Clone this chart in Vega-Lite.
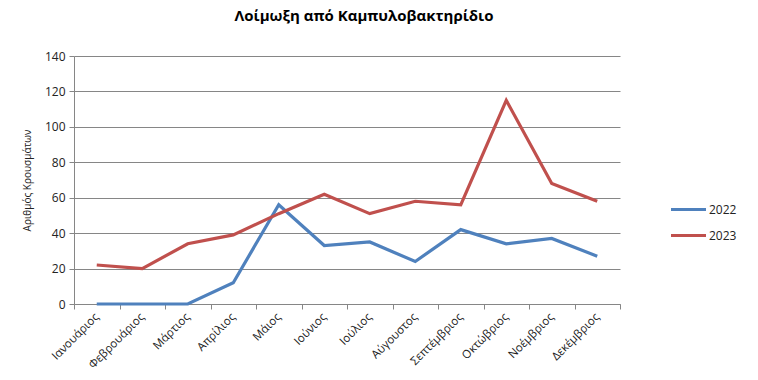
{
  "$schema": "https://vega.github.io/schema/vega-lite/v6.json",
  "autosize": "none",
  "padding": {"left": 74, "top": 56, "right": 138, "bottom": 76},
  "width": 546,
  "height": 248,
  "background": "white",
  "config": {"font": "Open Sans", "view": {"stroke": null}},
  "title": {"text": "Λοίμωξη από Καμπυλοβακτηρίδιο", "font": "Open Sans", "fontSize": 15, "fontWeight": "bold", "color": "#000000", "anchor": "middle", "frame": "group", "dx": 17, "offset": 26},
  "data": {"values": [
    {"month": "Ιανουάριος", "year": "2022", "cases": 0},
    {"month": "Φεβρουάριος", "year": "2022", "cases": 0},
    {"month": "Μάρτιος", "year": "2022", "cases": 0},
    {"month": "Απρίλιος", "year": "2022", "cases": 12},
    {"month": "Μάιος", "year": "2022", "cases": 56},
    {"month": "Ιούνιος", "year": "2022", "cases": 33},
    {"month": "Ιούλιος", "year": "2022", "cases": 35},
    {"month": "Αύγουστος", "year": "2022", "cases": 24},
    {"month": "Σεπτέμβριος", "year": "2022", "cases": 42},
    {"month": "Οκτώβριος", "year": "2022", "cases": 34},
    {"month": "Νοέμβριος", "year": "2022", "cases": 37},
    {"month": "Δεκέμβριος", "year": "2022", "cases": 27},
    {"month": "Ιανουάριος", "year": "2023", "cases": 22},
    {"month": "Φεβρουάριος", "year": "2023", "cases": 20},
    {"month": "Μάρτιος", "year": "2023", "cases": 34},
    {"month": "Απρίλιος", "year": "2023", "cases": 39},
    {"month": "Μάιος", "year": "2023", "cases": 51},
    {"month": "Ιούνιος", "year": "2023", "cases": 62},
    {"month": "Ιούλιος", "year": "2023", "cases": 51},
    {"month": "Αύγουστος", "year": "2023", "cases": 58},
    {"month": "Σεπτέμβριος", "year": "2023", "cases": 56},
    {"month": "Οκτώβριος", "year": "2023", "cases": 115},
    {"month": "Νοέμβριος", "year": "2023", "cases": 68},
    {"month": "Δεκέμβριος", "year": "2023", "cases": 58}
  ]},
  "mark": {"type": "line", "strokeWidth": 3.2, "strokeCap": "butt"},
  "encoding": {
    "x": {
      "field": "month", "type": "nominal", "sort": null,
      "scale": {"type": "band", "paddingInner": 0, "paddingOuter": 0},
      "axis": {
        "title": null, "labelAngle": -45, "labelAlign": "right", "labelBaseline": "middle",
        "labelFontSize": 11.5, "labelColor": "#222222", "labelPadding": 6,
        "domainColor": "#868686", "ticks": true, "tickBand": "extent", "tickSize": 5, "tickColor": "#868686",
        "grid": false, "labelFont": "Open Sans"
      }
    },
    "y": {
      "field": "cases", "type": "quantitative",
      "scale": {"domain": [0, 140], "nice": false},
      "axis": {
        "title": "Αριθμός Κρουσμάτων", "titleFontSize": 10, "titleFontWeight": "normal", "titleColor": "#222222", "titlePadding": 12,
        "values": [0, 20, 40, 60, 80, 100, 120, 140],
        "labelFontSize": 12, "labelColor": "#222222", "labelPadding": 4,
        "tickSize": 5, "tickColor": "#868686", "domainColor": "#868686",
        "gridColor": "#868686", "gridWidth": 1
      }
    },
    "color": {
      "field": "year", "type": "nominal",
      "scale": {"domain": ["2022", "2023"], "range": ["#4F81BD", "#C0504D"]},
      "legend": {
        "title": null, "orient": "none", "legendX": 595, "legendY": 134,
        "symbolType": "stroke", "symbolSize": 1225, "symbolStrokeWidth": 3.2,
        "labelFontSize": 12, "labelColor": "#222222", "rowPadding": -10, "labelOffset": 1
      }
    }
  }
}
